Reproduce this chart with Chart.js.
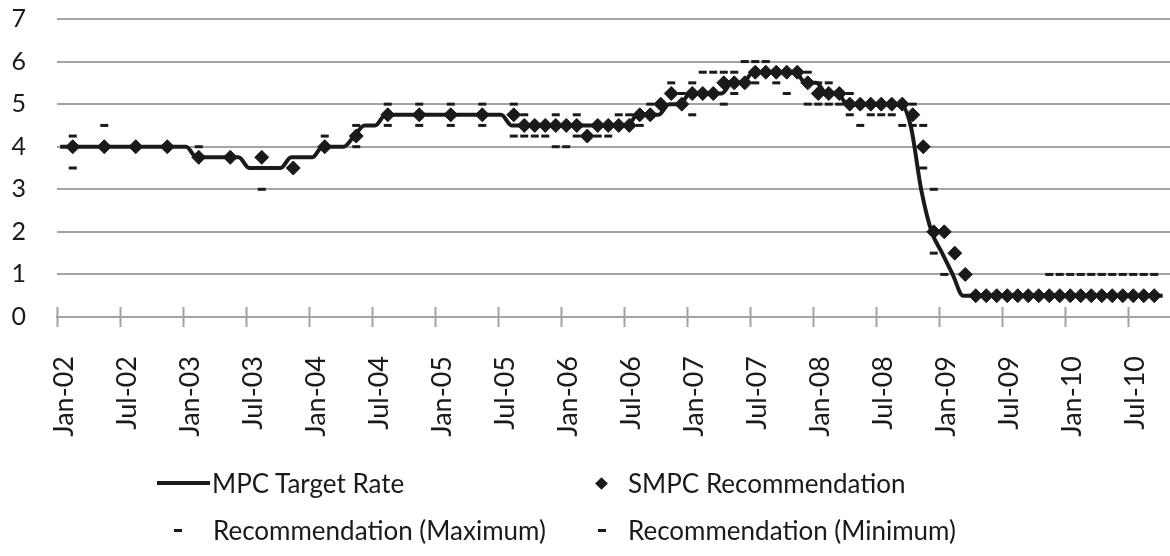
<!DOCTYPE html>
<html>
<head>
<meta charset="utf-8">
<script src="https://cdn.jsdelivr.net/npm/chart.js@4.4.0/dist/chart.umd.min.js"></script>
<style>
    html, body { margin: 0; padding: 0; background: #fff; }
    #wrap { position: relative; width: 1170px; height: 556px; }
    #legend { position: absolute; left: 0; top: 0; width: 1170px; height: 556px; pointer-events: none;
              font-family: Lato, sans-serif; font-size: 26px; color: #1a1a1a; }
    .sym { position: absolute; background: #1a1a1a; }
    .txt { position: absolute; line-height: 30px; white-space: nowrap; }
</style>
</head>
<body>
<div id="wrap">
    <canvas id="rateChart" width="1170" height="556"></canvas>
    <div id="legend"></div>
</div>
<script>
// x axis tick labels, one every six months from Jan 2002
const tickLabels = ['Jan-02', 'Jul-02', 'Jan-03', 'Jul-03', 'Jan-04', 'Jul-04', 'Jan-05', 'Jul-05', 'Jan-06',
    'Jul-06', 'Jan-07', 'Jul-07', 'Jan-08', 'Jul-08', 'Jan-09', 'Jul-09', 'Jan-10', 'Jul-10'];

// MPC target rate, one value per month, Jan 2002 .. Oct 2010
const mpcRate = [
    4, 4, 4, 4, 4, 4, 4, 4, 4, 4, 4, 4,
    4, 3.75, 3.75, 3.75, 3.75, 3.75, 3.5, 3.5, 3.5, 3.5, 3.75, 3.75,
    3.75, 4, 4, 4, 4.25, 4.5, 4.5, 4.75, 4.75, 4.75, 4.75, 4.75,
    4.75, 4.75, 4.75, 4.75, 4.75, 4.75, 4.75, 4.5, 4.5, 4.5, 4.5, 4.5,
    4.5, 4.5, 4.5, 4.5, 4.5, 4.5, 4.5, 4.75, 4.75, 4.75, 5, 5,
    5.25, 5.25, 5.25, 5.25, 5.5, 5.5, 5.75, 5.75, 5.75, 5.75, 5.75, 5.5,
    5.5, 5.25, 5.25, 5, 5, 5, 5, 5, 5, 4.5, 3, 2,
    1.5, 1, 0.5, 0.5, 0.5, 0.5, 0.5, 0.5, 0.5, 0.5, 0.5, 0.5,
    0.5, 0.5, 0.5, 0.5, 0.5, 0.5, 0.5, 0.5, 0.5, 0.5
];

// SMPC meetings (months since Jan 2002): quarterly at first, monthly from Aug 2005
const smpcMonth = [1, 4, 7, 10, 13, 16, 19, 22, 25, 28, 31, 34, 37, 40,
    43, 44, 45, 46, 47, 48, 49, 50, 51, 52, 53, 54, 55, 56, 57, 58, 59, 60, 61, 62,
    63, 64, 65, 66, 67, 68, 69, 70, 71, 72, 73, 74, 75, 76, 77, 78, 79, 80, 81, 82,
    83, 84, 85, 86, 87, 88, 89, 90, 91, 92, 93, 94, 95, 96, 97, 98, 99, 100, 101, 102,
    103, 104, 105];

const smpcRec = [4, 4, 4, 4, 3.75, 3.75, 3.75, 3.5, 4, 4.25, 4.75, 4.75, 4.75, 4.75,
    4.75, 4.5, 4.5, 4.5, 4.5, 4.5, 4.5, 4.25, 4.5, 4.5,
    4.5, 4.5, 4.75, 4.75, 5, 5.25, 5, 5.25, 5.25, 5.25,
    5.5, 5.5, 5.5, 5.75, 5.75, 5.75, 5.75, 5.75, 5.5, 5.25,
    5.25, 5.25, 5, 5, 5, 5, 5, 5, 4.75, 4,
    2, 2, 1.5, 1, 0.5, 0.5, 0.5, 0.5, 0.5, 0.5, 0.5, 0.5, 0.5, 0.5, 0.5, 0.5, 0.5, 0.5, 0.5,
    0.5, 0.5, 0.5];

const smpcMax = [4.25, 4.5, 4, 4, 4, 3.75, 3.75, 3.5, 4.25, 4.5, 5, 5, 5, 5,
    5, 4.75, 4.5, 4.5, 4.75, 4.5, 4.75, 4.5, 4.5, 4.5,
    4.75, 4.75, 4.75, 5, 5, 5.5, 5.25, 5.5, 5.75, 5.75,
    5.75, 5.75, 6, 6, 6, 5.75, 5.75, 5.75, 5.75, 5.5,
    5.5, 5.25, 5.25, 5, 5, 5, 5, 5, 5, 4.5,
    3, 2, 1.5, 1, 0.5, 0.5, 0.5, 0.5, 0.5, 0.5, 0.5, 1, 1, 1, 1, 1, 1, 1, 1,
    1, 1, 1];

const smpcMin = [3.5, 4, 4, 4, 3.75, 3.75, 3, 3.5, 4, 4, 4.5, 4.5, 4.5, 4.5,
    4.25, 4.25, 4.25, 4.25, 4, 4, 4.25, 4.25, 4.25, 4.25,
    4.5, 4.5, 4.5, 4.75, 5, 5.25, 5, 4.75, 5.25, 5.25,
    5, 5.25, 5.5, 5.5, 5.75, 5.5, 5.25, 5.75, 5, 5,
    5, 5, 4.75, 4.5, 4.75, 4.75, 4.75, 4.5, 4.5, 3.5,
    1.5, 1, 1.5, 1, 0.5, 0.5, 0.5, 0.5, 0.5, 0.5, 0.5, 0.5, 0.5, 0.5, 0.5, 0.5, 0.5, 0.5, 0.5,
    0.5, 0.5, 0.5];

const ink = '#1a1a1a';
const gridGrey = '#a3a3a3';

// MPC decisions fall early in the month, SMPC points sit mid-month
const mpcPoints = mpcRate.map((v, i) => ({ x: i + 0.3, y: v }));
const toPoints = values => smpcMonth.map((m, i) => ({ x: m + 0.5, y: values[i] }));

// x tick marks that cross the axis line
const crossTicks = {
    id: 'crossTicks',
    beforeDatasetsDraw(chart) {
        const { ctx, chartArea, scales: { x } } = chart;
        ctx.save();
        ctx.strokeStyle = gridGrey;
        ctx.lineWidth = 2;
        x.ticks.forEach(t => {
            const px = Math.round(x.getPixelForValue(t.value)) + 0.5;
            ctx.beginPath();
            ctx.moveTo(px, chartArea.bottom - 10);
            ctx.lineTo(px, chartArea.bottom + 10);
            ctx.stroke();
        });
        ctx.restore();
    }
};

const chart = new Chart(document.getElementById('rateChart'), {
    type: 'line',
    data: {
        datasets: [{
            label: 'MPC Target Rate',
            data: mpcPoints,
            borderColor: ink,
            borderWidth: 4,
            pointRadius: 0,
            cubicInterpolationMode: 'monotone',
            order: 3
        }, {
            label: 'SMPC Recommendation',
            data: toPoints(smpcRec),
            showLine: false,
            pointStyle: 'rectRot',
            pointRadius: 7,
            backgroundColor: ink,
            borderColor: ink,
            borderWidth: 1,
            order: 2
        }, {
            label: 'Recommendation (Maximum)',
            data: toPoints(smpcMax),
            showLine: false,
            pointStyle: 'line',
            pointRadius: 4,
            borderColor: ink,
            borderWidth: 3,
            order: 1
        }, {
            label: 'Recommendation (Minimum)',
            data: toPoints(smpcMin),
            showLine: false,
            pointStyle: 'line',
            pointRadius: 4,
            borderColor: ink,
            borderWidth: 3,
            order: 1
        }]
    },
    options: {
        responsive: false,
        animation: false,
        events: [],
        layout: { autoPadding: false, padding: { top: 19, left: 0, right: 0, bottom: 0 } },
        plugins: {
            legend: { display: false },
            tooltip: { enabled: false }
        },
        scales: {
            x: {
                type: 'linear',
                min: 0,
                max: 106,
                afterBuildTicks: scale => {
                    scale.ticks = tickLabels.map((l, i) => ({ value: i * 6 }));
                },
                afterFit: scale => {
                    scale.height = 239;
                    scale.paddingLeft = 0;
                    scale.paddingRight = 0;
                },
                ticks: {
                    autoSkip: false,
                    minRotation: 90,
                    maxRotation: 90,
                    padding: 39,
                    labelOffset: 7,
                    color: ink,
                    font: { family: 'Lato', size: 27 },
                    callback: (value, index) => tickLabels[index]
                },
                grid: { display: false, drawTicks: false },
                border: { display: true, color: gridGrey, width: 2 }
            },
            y: {
                min: 0,
                max: 7,
                afterFit: scale => {
                    scale.width = 57;
                    scale.paddingTop = 0;
                    scale.paddingBottom = 0;
                },
                ticks: {
                    stepSize: 1,
                    padding: 31,
                    color: ink,
                    font: { family: 'Lato', size: 25 }
                },
                grid: { color: gridGrey, lineWidth: 2, drawTicks: false },
                border: { display: false }
            }
        }
    },
    plugins: [crossTicks]
});

// legend laid out like the original: two columns, two rows
const legendSlots = [
    { symX: 157, textX: 212, y: 483 },
    { symX: 601, textX: 628, y: 483 },
    { symX: 178, textX: 213, y: 530 },
    { symX: 602, textX: 628, y: 530 }
];

const legendBox = document.getElementById('legend');
chart.data.datasets.forEach((ds, i) => {
    const slot = legendSlots[i];
    const sym = document.createElement('div');
    sym.className = 'sym';
    if (ds.showLine !== false) {
        sym.style.cssText = `left:${slot.symX}px;top:${slot.y - 2}px;width:53px;height:4px;`;
    } else if (ds.pointStyle === 'rectRot') {
        sym.style.cssText = `left:${slot.symX - 4.5}px;top:${slot.y - 4.5}px;width:9px;height:9px;transform:rotate(45deg);`;
    } else {
        sym.style.cssText = `left:${slot.symX - 4}px;top:${slot.y - 1}px;width:8px;height:3px;`;
    }
    legendBox.appendChild(sym);

    const txt = document.createElement('div');
    txt.className = 'txt';
    txt.textContent = ds.label;
    txt.style.left = slot.textX + 'px';
    txt.style.top = (slot.y - 15) + 'px';
    legendBox.appendChild(txt);
});
</script>
</body>
</html>
